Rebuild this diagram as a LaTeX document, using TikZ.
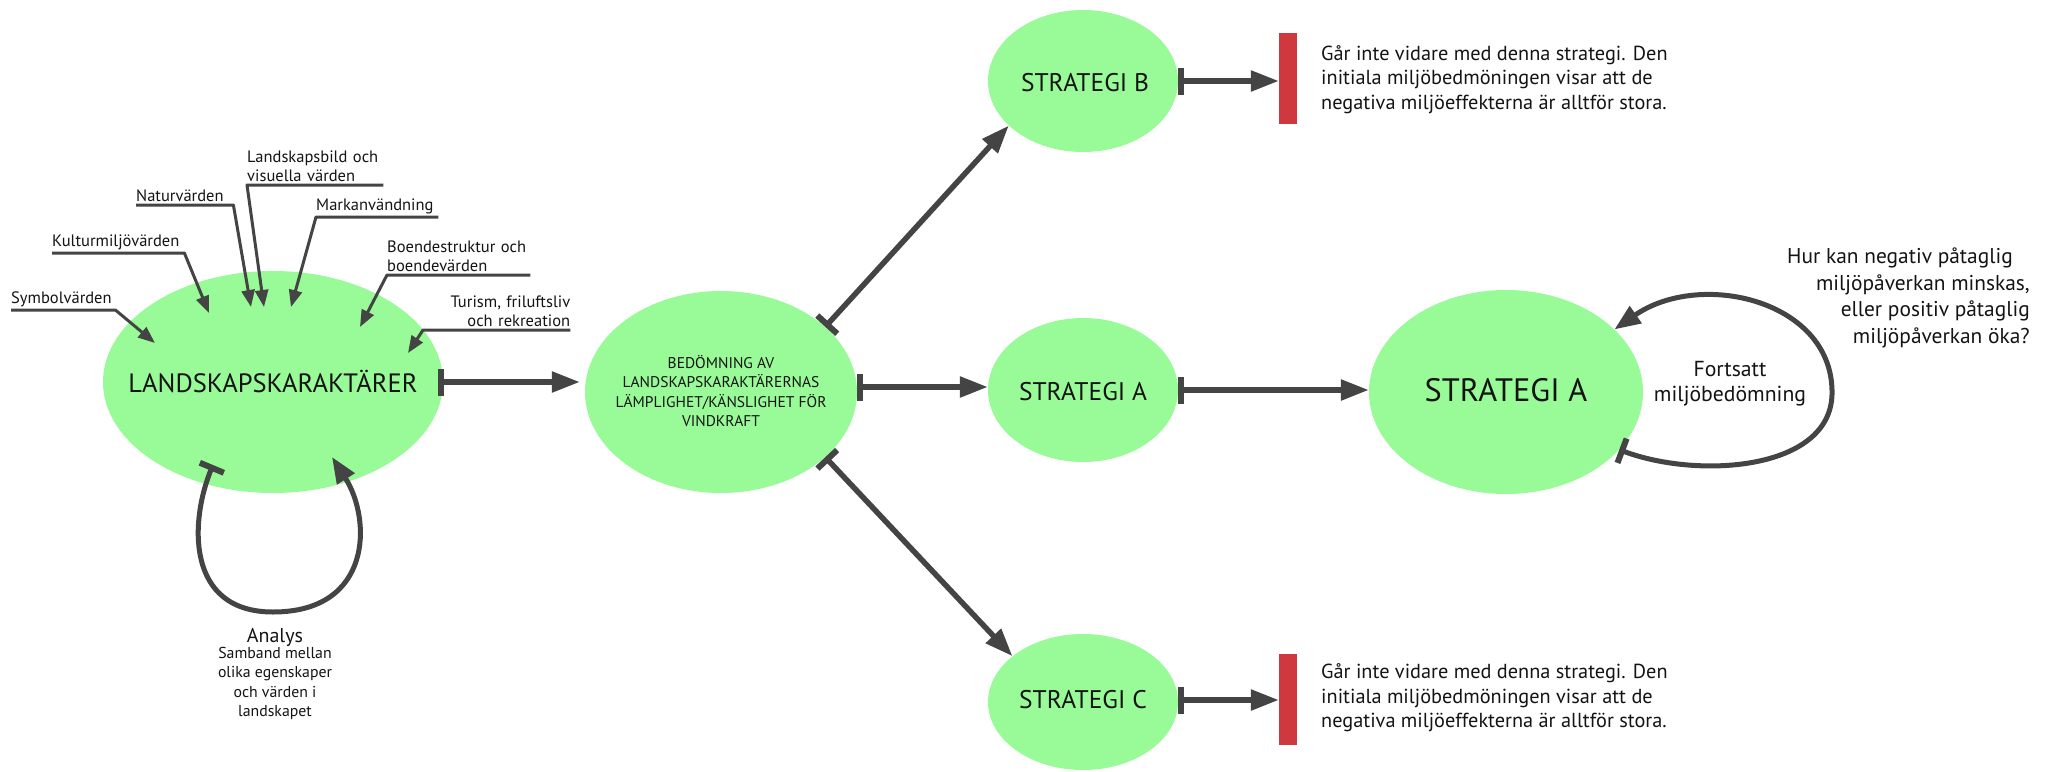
\documentclass[tikz,border=0pt]{standalone}
\usepackage{fontspec}
\setmainfont{PT Sans}
\usetikzlibrary{arrows.meta,shapes.geometric}
\definecolor{lgreen}{RGB}{152,251,152}
\definecolor{lgray}{RGB}{68,68,68}
\definecolor{rbar}{RGB}{208,56,64}
\definecolor{ink}{RGB}{20,20,20}
\begin{document}
\begin{tikzpicture}[x=1pt,y=-1pt,
  blob/.style={ellipse, fill=lgreen, draw=none, inner sep=0pt},
  conn/.style={draw=lgray, line width=5.5pt, {Bar[width=27pt,line width=6pt]}-{Triangle[length=28pt,width=20pt]}},
  loopline/.style={draw=lgray, line width=5pt, {Bar[width=26pt,line width=6pt]}-{Triangle[length=26pt,width=20pt]}},
  lead/.style={draw=lgray, line width=3pt, line join=round, -{Triangle[length=17pt,width=13pt]}},
  lbl/.style={font=\fontsize{16.5}{19.5}\selectfont, text=ink, inner xsep=0pt, inner ysep=3pt, anchor=south west, align=left},
  big/.style={font=\fontsize{#1}{#1}\selectfont, text=ink, inner sep=0pt},
  rtxt/.style={font=\fontsize{20.3}{24.5}\selectfont, text=ink, align=left, anchor=west, inner sep=0pt},
  redbar/.style={fill=rbar, draw=none, minimum width=18pt, minimum height=91pt, inner sep=0pt}
]
\useasboundingbox (0,0) rectangle (2061,771);
\fill[white] (0,0) rectangle (2061,771);

% main ellipses
\node[blob, minimum width=340pt, minimum height=222pt] (LK) at (273,382) {};
\node[big=26.5] (LKt) at (273,382) {LANDSKAPSKARAKTÄRER};
\node[blob, minimum width=272pt, minimum height=202pt] (BD) at (721,392) {};
\node[font=\fontsize{15.5}{19.3}\selectfont, text=ink, align=center, inner sep=0pt] (BDt) at (721,391) {BEDÖMNING AV\\LANDSKAPSKARAKTÄRERNAS\\LÄMPLIGHET/KÄNSLIGHET FÖR\\VINDKRAFT};
\node[blob, minimum width=190pt, minimum height=142pt] (SB) at (1083,81) {};
\node[big=25.5] (SBt) at (1085,83) {STRATEGI B};
\node[blob, minimum width=190pt, minimum height=144pt] (SA) at (1083,390) {};
\node[big=25.5] (SAt) at (1083,392) {STRATEGI A};
\node[blob, minimum width=190pt, minimum height=136pt] (SC) at (1083,702) {};
\node[big=25.5] (SCt) at (1083,700) {STRATEGI C};
\node[blob, minimum width=274pt, minimum height=204pt] (SA2) at (1506,392) {};
\node[big=32.4] (SA2t) at (1506,390) {STRATEGI A};

% red bars and texts
\node[redbar] (RB) at (1288,78.5) {};
\node[redbar] (RC) at (1288,699) {};
\node[rtxt] (tB) at (1321,79.5) {Går inte vidare med denna strategi. Den\\initiala miljöbedmöningen visar att de\\negativa miljöeffekterna är alltför stora.};
\node[rtxt] (tC) at (1321,698) {Går inte vidare med denna strategi. Den\\initiala miljöbedmöningen visar att de\\negativa miljöeffekterna är alltför stora.};

% main connectors
\draw[conn] ([xshift=-5pt]LK.east) -- ([xshift=-5pt]LK.east -| BD.west);
\draw[conn] ([yshift=5pt]BD.east) -- ([yshift=5pt]BD.east -| SA.west);
\draw[conn] (BD.32) -- (SB.211);
\draw[conn] (BD.-32) -- (SC.147);
\draw[conn] (SA.east) -- (SA.east -| SA2.west);
\draw[conn] (SB.east) -- (SB.east -| RB.west);
\draw[conn] ([yshift=2pt]SC.east) -- ([yshift=2pt]SC.east -| RC.west);

% strategy A loop
\draw[loopline] (SA2.-27) .. controls (1700,480) and (1835,470) .. (1832,390)
  .. controls (1830,300) and (1700,270) .. (SA2.30);
\node[font=\fontsize{21.7}{25}\selectfont, text=ink, align=center, inner sep=0pt] (fort) at (1730,384) {Fortsatt\\miljöbedömning};
\node[font=\fontsize{21.4}{26.7}\selectfont, text=ink, align=right, anchor=east, inner sep=0pt] (q) at (2030,298) {Hur kan negativ påtaglig\hspace*{17pt}\\miljöpåverkan minskas,\\eller positiv påtaglig\hspace*{9pt}\\miljöpåverkan öka?};

% analysis loop
\coordinate (lkA) at (213,465);
\coordinate (lkB) at (332,457);
\draw[loopline] (lkA) .. controls (190,520) and (185,612) .. (273,612)
  .. controls (372,612) and (372,520) .. (lkB);
\node[big=20] (an) at (275,637) {Analys};
\node[font=\fontsize{15.8}{19.3}\selectfont, text=ink, align=center, anchor=north, inner sep=0pt] (ans) at (275,647) {Samband mellan\\olika egenskaper\\och värden i\\landskapet};

% labels with leaders
\node[lbl, text width=104pt] (l1) at (11,310) {Symbolvärden};
\node[lbl, text width=132pt] (l2) at (52,253) {Kulturmiljövärden};
\node[lbl, text width=97pt] (l3) at (136,205) {Naturvärden};
\node[lbl, text width=136pt] (l4) at (247,185) {Landskapsbild och\\visuella värden};
\node[lbl, text width=122pt] (l5) at (316,217) {Markanvändning};
\node[lbl, text width=143pt] (l6) at (387,275) {Boendestruktur och\\boendevärden};
\node[lbl, text width=147pt, align=right] (l7) at (423,330) {Turism, friluftsliv\\och rekreation};
\coordinate (t1) at (155,343);
\coordinate (t2) at (209,313);
\coordinate (t3) at (251,307);
\coordinate (t4) at (264,307);
\coordinate (t5) at (291,307);
\coordinate (t6) at (360,327);
\coordinate (t7) at (408,353);
\draw[lead] (l1.south west) -- (l1.south east) -- (t1);
\draw[lead] (l2.south west) -- (l2.south east) -- (t2);
\draw[lead] (l3.south west) -- (l3.south east) -- (t3);
\draw[lead] (l4.south east) -- (l4.south west) -- (t4);
\draw[lead] (l5.south east) -- (l5.south west) -- (t5);
\draw[lead] (l6.south east) -- (l6.south west) -- (t6);
\draw[lead] (l7.south east) -- (l7.south west) -- (t7);
\end{tikzpicture}
\end{document}
